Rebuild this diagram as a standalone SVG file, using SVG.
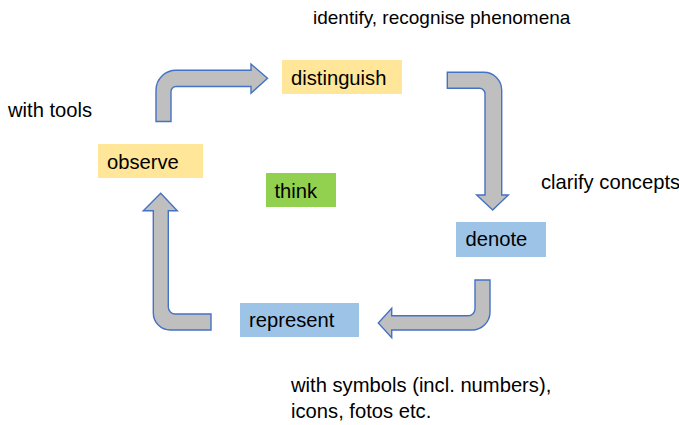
<svg xmlns="http://www.w3.org/2000/svg" width="679" height="425" viewBox="0 0 679 425">
<style>
.arrow{fill:#BFBFBF;stroke:#4472C4;stroke-width:1.4;stroke-linejoin:miter}
text{font-family:"Liberation Sans",Arial,sans-serif;font-size:20.2px;fill:#000}
.y{fill:#FFE699}.b{fill:#9DC3E6}.g{fill:#92D050}
</style>
<rect width="679" height="425" fill="#fff"/>
<g id="connectors">
<path class="arrow" d="M156,121.5 V90 A20,20 0 0 1 176,70.3 H251 V64 L267.5,78.3 L251,93.2 V86.5 H176 A5,5 0 0 0 171,91.5 V121.5 Z"/>
<path class="arrow" d="M447.3,72.3 H483.7 A18,18 0 0 1 501.7,90.3 V195 H508.3 L492.7,210 L476.7,195 H485 V93.8 A5.5,5.5 0 0 0 479.5,88.3 H447.3 Z"/>
<path class="arrow" d="M490,280 V312 A18,18 0 0 1 472,330 H391.7 V337.7 L378.3,323 L391.7,308.3 V315.7 H468 A7,7 0 0 0 475,308.7 V280 Z"/>
<path class="arrow" d="M211,314 V330 H170.3 A17,17 0 0 1 153.3,313 V210.7 H143.3 L160.7,193.3 L177.3,210.7 H168.3 V307 A7,7 0 0 0 175.3,314 Z"/>
</g>
<g id="distinguish"><rect class="y" x="282" y="60" width="120" height="34"/><text x="291" y="85">distinguish</text></g>
<g id="observe"><rect class="y" x="98" y="144" width="105" height="34"/><text x="107" y="168.5">observe</text></g>
<g id="think"><rect class="g" x="266" y="173" width="70" height="34"/><text x="274.5" y="197.5">think</text></g>
<g id="denote"><rect class="b" x="456" y="222" width="90" height="35"/><text x="465.5" y="246">denote</text></g>
<g id="represent"><rect class="b" x="240" y="303" width="119" height="34"/><text x="249" y="326.5">represent</text></g>
<g id="labels">
<text x="313" y="24" style="font-size:19px">identify, recognise phenomena</text>
<text x="8" y="117">with tools</text>
<text x="541" y="189">clarify concepts</text>
<text x="291" y="392">with symbols (incl. numbers),</text>
<text x="291" y="418">icons, fotos etc.</text>
</g>
</svg>
